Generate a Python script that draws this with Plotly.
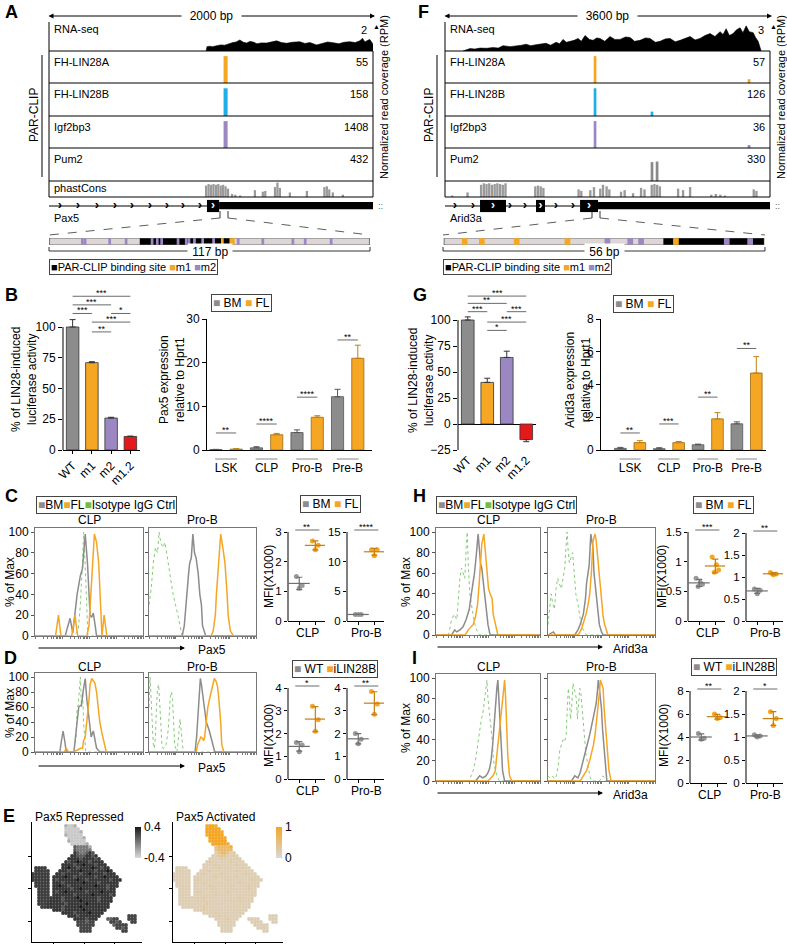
import numpy as np
import plotly.graph_objects as go

W, H = 787, 944
FONT = "Liberation Sans, Arial, Helvetica, sans-serif"
GREY = "#8c8c8c"
ORANGE = "#F5A623"
PURPLE = "#9B87C1"
RED = "#E3191C"
CYAN = "#1FAEE6"
GREEN = "#6DBE45"
ISO_GREEN = "#86CC78"
DARK_OR = "#C47F0E"
DARK_GR = "#6f6f6f"

# ======================= DATA =======================
# ---- Panel A : Pax5 locus ----
pax5_len_bp = 2000
pax5_rna_pos = [970, 975, 990, 1010, 1035, 1060, 1085, 1110, 1135, 1155,
                1178, 1200, 1220, 1240, 1260, 1285, 1310, 1343, 1370, 1405,
                1435, 1467, 1500, 1548, 1580, 1610, 1652, 1690, 1720, 1754,
                1790, 1820, 1857, 1890, 1919, 1935, 1950, 1965, 1980, 1995, 2000]
pax5_rna_val = [0, 0.30, 0.33, 0.30, 0.36, 0.42, 0.40, 0.50, 0.58, 0.62,
                0.76, 0.60, 0.55, 0.66, 0.62, 0.50, 0.56, 0.55, 0.62, 0.70,
                0.58, 0.53, 0.60, 0.64, 0.52, 0.58, 0.42, 0.55, 0.62, 0.57,
                0.50, 0.60, 0.64, 0.58, 0.70, 0.88, 0.62, 0.72, 0.80, 0.55, 0.45]
pax5_rna_max = 2
pax5_lin28a_pos, pax5_lin28a_val = [1090], [55]
pax5_lin28b_pos, pax5_lin28b_val = [1090], [158]
pax5_igf2bp3_pos, pax5_igf2bp3_val = [1090], [1408]
pax5_pum2_pos, pax5_pum2_val = [], []
pax5_track_max = [55, 158, 1408, 432]
pax5_phast_pos = [970, 985, 1000, 1015, 1030, 1045, 1060, 1075, 1090, 1105,
                  1130, 1150, 1180, 1271, 1320, 1335, 1395, 1410, 1425, 1487,
                  1592, 1700, 1715, 1730, 1752, 1814]
pax5_phast_val = [0.75, 0.85, 0.8, 0.85, 0.8, 0.85, 0.75, 0.8, 0.7, 0.55,
                  0.2, 0.15, 0.1, 0.45, 0.35, 0.4, 0.65, 0.95, 0.6, 0.3,
                  0.4, 0.65, 0.7, 0.5, 0.3, 0.15]
pax5_intron = [0, 975]
pax5_exon_tall = [[975, 1050]]
pax5_exon_thick = [[1050, 2000]]
pax5_chevrons = [68, 179, 296, 407, 512, 623, 728, 827, 932]
pax5_chevrons_white = [1012]
pax5_zoom_len = 117
pax5_site = [33, 67]
pax5_m1 = [63.2, 66.3, 67.2]
pax5_m2 = [12, 13, 22, 28, 37.5, 39.4, 41, 47, 50, 51, 53, 56, 60, 69, 78, 89, 93.5, 103]

# ---- Panel F : Arid3a locus ----
arid3a_len_bp = 3600
arid3a_rna_pos = [199, 277, 330, 388, 460, 532, 590, 643, 720, 787,
                  850, 898, 950, 1008, 1060, 1119, 1170, 1230, 1270, 1307,
                  1345, 1385, 1430, 1474, 1510, 1551, 1600, 1640, 1680, 1717,
                  1770, 1828, 1880, 1939, 2000, 2050, 2100, 2160, 2220, 2271,
                  2330, 2382, 2440, 2493, 2550, 2604, 2660, 2715, 2770, 2826,
                  2880, 2936, 2990, 3047, 3080, 3114, 3150, 3191, 3230, 3269,
                  3300, 3336, 3370, 3414, 3440, 3469, 3502]
arid3a_rna_val = [0, 0.25, 0.2, 0.3, 0.28, 0.35, 0.3, 0.55, 0.45, 0.5,
                  0.6, 0.7, 0.55, 0.65, 0.75, 0.8, 0.6, 0.9, 0.75, 1.2,
                  0.9, 1.0, 1.1, 1.3, 1.0, 1.6, 1.2, 1.1, 1.35, 1.3,
                  1.0, 1.5, 1.2, 1.2, 1.45, 1.4, 1.0, 1.1, 1.35, 1.3,
                  0.9, 1.0, 1.25, 1.3, 0.95, 1.1, 1.3, 1.5, 1.15, 1.3,
                  1.6, 1.8, 1.5, 2.0, 1.7, 2.3, 1.6, 1.8, 2.2, 2.4,
                  1.9, 2.6, 2.0, 1.9, 1.4, 1.0, 0]
arid3a_rna_max = 3
arid3a_lin28a_pos, arid3a_lin28a_val = [1662, 3368], [57, 8]
arid3a_lin28b_pos, arid3a_lin28b_val = [1662, 2293], [126, 20]
arid3a_igf2bp3_pos, arid3a_igf2bp3_val = [1662, 3368], [36, 4]
arid3a_pum2_pos, arid3a_pum2_val = [2293, 2349], [225, 232]
arid3a_track_max = [57, 126, 36, 330]
arid3a_phast_pos = [80, 250, 400, 430, 460, 490, 520, 550, 580, 610, 640, 670,
                    1000, 1030, 1060, 1090, 1480, 1510, 1610, 1650, 1720, 1750, 1790, 1820,
                    1950, 1990, 2083, 2172, 2210, 2290, 2320, 2350, 2380, 2582, 2637, 2715,
                    2950, 3000, 3050, 3100, 3420, 3450]
arid3a_phast_val = [0.1, 0.3, 0.8, 0.9, 0.85, 0.9, 0.8, 0.85, 0.9, 0.85, 0.8, 0.9,
                    0.7, 0.75, 0.7, 0.6, 0.5, 0.4, 0.45, 0.65, 0.55, 0.8, 0.7, 0.5,
                    0.35, 0.45, 0.25, 0.6, 0.5, 0.8, 0.85, 0.8, 0.7, 0.55, 0.45, 0.65,
                    0.15, 0.2, 0.15, 0.1, 0.5, 0.4]
arid3a_intron = [0, 1496]
arid3a_exon_tall = [[388, 676], [1008, 1108], [1496, 1695]]
arid3a_exon_thick = [[1695, 3600]]
arid3a_chevrons = [111, 310, 720, 886, 1230, 1418]
arid3a_chevrons_white = [532, 1058, 1595]
arid3a_zoom_len = 56
arid3a_site = [38.4, 56]
arid3a_m1 = [3.6, 6.6, 12.7, 21.6, 40.6]
arid3a_m2 = [28.6, 32.6, 34.5, 49.5, 53.6]

track_names = ["FH-LIN28A", "FH-LIN28B", "Igf2bp3", "Pum2"]
track_colors = [ORANGE, CYAN, PURPLE, "#8a8a8a"]

# ---- Panels B / G : luciferase + qPCR ----
luc_labels = ["WT", "m1", "m2", "m1.2"]
luc_colors = [GREY, ORANGE, PURPLE, RED]
pax5_luc = [100, 71, 26, 11]
pax5_luc_err = [6, 0.8, 0.6, 0.3]
pax5_luc_sig = [(0, 3, 125, "***"), (0, 2, 118, "***"), (0, 1, 111, "***"),
                (2, 3, 111, "*"), (1, 3, 104, "***"), (1, 2, 96, "**")]
arid3a_luc = [100, 40, 64, -15]
arid3a_luc_err = [3, 4, 6, 2]
arid3a_luc_sig = [(0, 3, 123, "***"), (0, 2, 116, "**"), (0, 1, 108, "***"),
                  (2, 3, 108, "***"), (1, 3, 98, "***"), (1, 2, 90, "*")]

groups = ["LSK", "CLP", "Pro-B", "Pre-B"]
pax5_bm = [0.1, 0.5, 4.0, 12.2]
pax5_bm_err = [0.05, 0.25, 0.6, 1.7]
pax5_fl = [0.2, 3.5, 7.5, 21.0]
pax5_fl_err = [0.1, 0.3, 0.35, 3.0]
pax5_expr_sig = [3.9, 5.95, 12.1, 25.2]
pax5_expr_sig_txt = ["**", "****", "****", "**"]
arid3a_bm = [0.1, 0.08, 0.32, 1.6]
arid3a_bm_err = [0.06, 0.06, 0.04, 0.12]
arid3a_fl = [0.45, 0.45, 1.9, 4.7]
arid3a_fl_err = [0.12, 0.07, 0.38, 1.0]
arid3a_expr_sig = [1.04, 1.59, 3.23, 6.2]
arid3a_expr_sig_txt = ["**", "***", "**", "**"]

# ---- Panels C / D / H / I : MFI dot plots (x1000) ----
c_clp_bm, c_clp_fl = [1.5, 1.1, 1.2], [2.7, 2.4, 2.55]
c_prob_bm, c_prob_fl = [1.1, 1.1, 1.1], [12.0, 11.0, 12.0]
d_clp_wt, d_clp_il = [1.6, 1.2, 1.5], [3.2, 2.1, 2.6]
d_prob_wt, d_prob_il = [2.0, 1.55, 1.75], [3.85, 2.85, 3.3]
h_clp_bm, h_clp_fl = [0.72, 0.58, 0.65, 0.62], [1.08, 0.82, 0.95, 0.86]
h_prob_bm, h_prob_fl = [0.73, 0.62, 0.70], [1.1, 1.05, 1.07]
i_clp_wt, i_clp_il = [4.3, 3.8, 3.9], [6.0, 5.6, 5.7]
i_prob_wt, i_prob_il = [1.05, 1.0, 1.02], [1.55, 1.25, 1.4]
jitter3 = [-0.18, 0.0, 0.18]
jitter4 = [-0.2, -0.07, 0.07, 0.2]

# ---- Flow histograms (% of Max vs fluorescence, 0-100 display units) ----
c_clp_hist = {
    "iso": ([0, 36, 40, 42, 44, 45, 46, 47, 48, 49, 100], [0, 0, 5, 30, 70, 100, 80, 50, 20, 0, 0]),
    "bm": ([0, 28, 30, 32.5, 35, 37, 39, 42, 44, 45.5, 46.5, 48.6, 51, 52.5, 54, 56, 57, 100],
           [0, 0, 8, 17, 3, 20, 40, 58, 65, 85, 98, 70, 20, 18, 22, 8, 0, 0]),
    "fl": ([0, 19, 21.7, 24, 34, 37, 39.5, 48, 50, 52, 55, 57, 59, 62, 64, 66.5, 100],
           [0, 0, 20, 0, 0, 20, 0, 0, 10, 50, 98, 90, 70, 0, 20, 0, 0]),
}
c_prob_hist = {
    "iso": ([0, 2, 4, 6, 8, 9.4, 11, 13, 15, 17, 19, 21, 22.5, 25, 27, 29, 31, 100],
            [30, 45, 70, 85, 80, 100, 90, 85, 90, 75, 60, 50, 40, 30, 20, 10, 0, 0]),
    "bm": ([0, 31, 33, 35, 37, 38, 39.5, 41, 42.5, 44, 46, 47.5, 49, 50, 53, 100],
           [0, 0, 10, 40, 60, 70, 75, 98, 80, 75, 60, 40, 30, 10, 0, 0]),
    "fl": ([0, 58, 60, 62, 63, 65, 67, 69, 71, 73, 74, 76, 79, 100],
           [0, 0, 5, 20, 40, 70, 98, 85, 70, 40, 20, 5, 0, 0]),
}
d_clp_hist = {
    "iso": ([0, 36, 38, 39, 40, 41, 42, 43, 44, 45, 46, 47, 100], [0, 0, 20, 60, 62, 90, 100, 60, 80, 40, 10, 0, 0]),
    "bm": ([0, 23, 24.5, 26, 27.5, 29, 36, 37.5, 39, 40.5, 42, 43, 44.5, 46.5, 48, 50, 52, 54, 56, 57, 60, 100],
           [0, 0, 15, 28, 15, 0, 0, 20, 45, 60, 62, 62, 80, 98, 70, 40, 20, 28, 15, 5, 0, 0]),
    "fl": ([0, 27, 29, 31, 36, 40, 42, 44, 45, 46.5, 48, 50, 51, 52.5, 54, 55.5, 57, 58.5, 60, 62, 64, 66, 100],
           [0, 0, 5, 0, 0, 3, 5, 5, 15, 20, 40, 70, 90, 98, 95, 92, 80, 60, 40, 25, 10, 0, 0]),
}
d_prob_hist = {
    "iso": ([0, 1, 2, 3, 4, 5, 6, 7, 8, 9, 10, 11, 12, 13, 14, 16, 18, 19, 20, 21, 22, 23, 24, 25, 26, 27, 28, 29, 30, 31, 32, 33, 100],
            [60, 100, 70, 30, 10, 5, 20, 60, 85, 90, 70, 40, 10, 5, 5, 10, 30, 60, 75, 80, 70, 40, 10, 5, 0, 10, 30, 44, 30, 10, 0, 0, 0]),
    "bm": ([0, 43, 44.5, 46, 47, 48, 49, 50, 51.5, 53.5, 56, 58, 60, 61.5, 100],
           [0, 0, 20, 60, 85, 98, 90, 80, 60, 40, 30, 20, 8, 0, 0]),
    "fl": ([0, 44, 45.5, 47, 48.5, 50, 51, 52, 53, 54, 55, 56.5, 58, 59.5, 61, 62.5, 64, 65, 66, 67, 68, 70, 100],
           [0, 0, 10, 15, 20, 18, 15, 20, 35, 50, 60, 70, 80, 90, 98, 95, 88, 75, 60, 40, 10, 0, 0]),
}
h_clp_hist = {
    "iso": ([0, 12, 15, 17.5, 20, 21.5, 23, 24.5, 26, 27.7, 29, 30, 31, 32.5, 34, 35.7, 37, 39, 42, 100],
            [0, 0, 15, 20, 15, 40, 55, 65, 60, 55, 85, 100, 70, 40, 30, 20, 12, 5, 0, 0]),
    "bm": ([0, 15, 18, 20, 23, 26, 29, 32, 34, 35.5, 37, 38.5, 40.5, 42, 42.7, 44, 45, 47, 48.5, 50, 52, 100],
           [0, 0, 5, 3, 5, 8, 15, 25, 40, 50, 60, 75, 98, 80, 70, 65, 55, 40, 25, 10, 0, 0]),
    "fl": ([0, 28, 31, 34, 35.7, 38, 40, 41.5, 42.7, 44, 46, 47.5, 49, 50.5, 52, 54, 55, 57, 59.5, 100],
           [0, 0, 5, 8, 10, 18, 30, 50, 70, 88, 98, 80, 60, 45, 40, 35, 20, 10, 0, 0]),
}
h_prob_hist = {
    "iso": ([0, 1.5, 3, 4.5, 6, 7.5, 9, 10.5, 12.5, 14, 15.6, 16.8, 17.8, 19, 20, 21.5, 23, 24.5, 26, 28, 29.6, 31, 33, 34.5, 36, 100],
            [10, 25, 40, 30, 25, 45, 55, 50, 45, 55, 65, 85, 100, 80, 70, 75, 80, 60, 40, 30, 20, 10, 5, 2, 0, 0]),
    "bm": ([0, 5, 7, 10, 25, 28, 30, 33, 35, 36, 37.5, 38.5, 40, 41, 42, 43, 45, 46.5, 48, 50, 51.5, 100],
           [0, 3, 0, 0, 0, 5, 10, 20, 35, 50, 65, 68, 98, 90, 85, 60, 40, 25, 10, 3, 0, 0]),
    "fl": ([0, 28, 30, 32, 34, 36, 37.5, 39, 40.5, 42, 43, 44, 45, 46, 47, 48.5, 50, 51.5, 53, 54.5, 56, 100],
           [0, 0, 3, 8, 15, 22, 30, 40, 60, 90, 95, 98, 92, 80, 70, 50, 30, 18, 10, 4, 0, 0]),
}
i_clp_hist = {
    "iso": ([0, 30, 33, 35.7, 38, 40.5, 42, 43.6, 45, 46, 47, 48, 49, 50, 51.6, 53, 54, 55, 56, 58.6, 61, 100],
            [0, 0, 3, 10, 20, 40, 50, 60, 65, 75, 80, 90, 98, 80, 65, 55, 40, 25, 15, 5, 0, 0]),
    "bm": ([0, 38, 42, 45, 48, 50, 51.5, 53, 54.5, 56, 57.5, 58.5, 59.5, 60.5, 62, 63, 64, 66, 100],
           [0, 0, 5, 3, 5, 8, 12, 20, 35, 60, 75, 90, 98, 80, 60, 30, 10, 0, 0]),
    "fl": ([0, 50, 54.8, 57, 58, 59.5, 61, 62, 63, 63.7, 64.5, 65.3, 66, 67, 68, 69, 70.7, 73, 100],
           [0, 0, 5, 10, 20, 35, 50, 60, 65, 70, 80, 90, 98, 80, 50, 25, 5, 0, 0]),
}
i_prob_hist = {
    "iso": ([0, 2, 4, 6, 7.8, 9.5, 11, 12.5, 14, 15.5, 17, 18, 19, 20, 21, 22, 23.4, 24.5, 25.5, 26.5,
             27.5, 28.5, 29.7, 30.8, 31.8, 33, 34, 35.5, 37.5, 39, 40.6, 48, 51.5, 53, 54.7, 100],
            [5, 3, 5, 2, 5, 15, 30, 35, 40, 38, 45, 70, 90, 80, 60, 70, 95, 90, 85, 80,
             60, 75, 90, 85, 70, 55, 40, 25, 15, 5, 0, 0, 5, 3, 0, 0]),
    "bm": ([0, 22, 25, 28, 30, 33, 35, 37.5, 39, 41, 42, 43.5, 45, 46, 47, 48, 49, 50, 51, 52, 53, 55, 100],
           [0, 0, 5, 3, 8, 20, 28, 40, 45, 55, 60, 65, 75, 85, 98, 90, 80, 70, 50, 35, 20, 0, 0]),
    "fl": ([0, 30, 33, 36, 39, 41, 42.5, 44, 45, 46, 47, 48, 49, 50, 51.5, 52.5, 53.5, 54.7, 56, 57, 59, 100],
           [0, 0, 5, 10, 20, 28, 35, 45, 55, 65, 70, 85, 98, 95, 90, 70, 55, 40, 20, 10, 0, 0]),
}

# ---- Panel E : UMAP occupancy map (row -> [(start col, cell codes)]) ----
umap_rows = [
    [(11, "tTTt")], [(11, "TTTTT")], [(11, "TTTTTt")], [(11, "tTTTTT")], [(12, "TTTTTt")],
    [(12, "tTTTTT")], [(13, "TTTTTt")], [(14, "nNNNNt")], [(14, "nNNNNN")], [(14, "BnNNnBb")],
    [(13, "BBbnnBBbB")], [(12, "BBBBbBBBBbB")], [(11, "BbBBDBBBbBBBB")], [(10, "BBBBbBBDBBBbBBB")],
    [(1, "LLLL"), (10, "BBDBBbBBBBDBBbBB")],
    [(1, "LLLLL"), (9, "BBBbBBBDBBBBbBBBDB")],
    [(0, "LLLLLL"), (8, "BBbBBBBBbBBDBBBBbBBB")],
    [(0, "LLLLLL"), (7, "BBBBDBBbBBBBBBbBBDBBBB")],
    [(0, "LLLLLL"), (7, "BbBBBBBBDBBbBBBBBBBbBBB")],
    [(1, "LLLLL"), (7, "BBBbBBBBBBDBBBBbBBBBBB")],
    [(1, "LLLLL"), (7, "BBDBBbBBBBBBBBDBBBbBBB")],
    [(2, "LLLL"), (7, "BBBBBBbBBDBBBBBBBBbBB")],
    [(2, "LLLL"), (7, "BbBBDBBBBBBbBBBBDBBBB")],
    [(2, "LLLL"), (7, "BBBBBBBbBBBBBDBBBBBbB")],
    [(2, "LLLLL"), (7, "BBBbBBBBDBBBBBBbBBBB")],
    [(2, "LLLLBBBBbBBBBBDBBBBBbBBBB")],
    [(2, "LLLBBBBBBbBBBBBBDBBBBBBB")],
    [(3, "LLBBBBBbBBBBBDBBBBBBBBB")],
    [(7, "BBBbBBBBBBDBBBBBBB")],
    [(10, "BBBBbBBBBDBBBB")],
    [(12, "BBBbBBBBBBB"), (32, "SSS")],
    [(14, "BBBBbBBB"), (25, "ssSS"), (32, "SSS")],
    [(15, "SSSsSS"), (26, "SSsS"), (33, "SS")],
    [(15, "SSSSSS"), (27, "sSSSS")],
    [(16, "SSSS"), (28, "SSsS")],
    [(16, "SSSS"), (30, "SS")],
]
umap_repressed_score = {"T": -0.33, "t": -0.22, "N": 0.0, "n": 0.12, "B": 0.28, "b": 0.15,
                        "D": 0.4, "L": 0.25, "S": 0.22, "s": 0.1}
umap_activated_score = {"T": 1.0, "t": 0.85, "N": 0.6, "n": 0.42, "B": 0.2, "b": 0.28,
                        "D": 0.14, "L": 0.2, "S": 0.18, "s": 0.24}

# ======================= HELPERS =======================
fig = go.Figure()
annotations, shapes = [], []
_axn = [0]


def X(px):
    return px / W


def Y(py):
    return 1.0 - py / H


BASE_AX = dict(showgrid=False, zeroline=False, showticklabels=False, ticks="", showline=False,
               linecolor="black", linewidth=1, tickcolor="black", tickwidth=1,
               tickfont=dict(size=12, family=FONT, color="black"), fixedrange=True)


def new_axes(x0, x1, y0, y1, xr, yr, xkw=None, ykw=None):
    _axn[0] += 1
    s = "" if _axn[0] == 1 else str(_axn[0])
    xa = dict(BASE_AX, domain=[X(x0), X(x1)], anchor="y" + s, range=list(xr))
    ya = dict(BASE_AX, domain=[Y(y1), Y(y0)], anchor="x" + s, range=list(yr))
    if xkw:
        xa.update(xkw)
    if ykw:
        ya.update(ykw)
    fig.update_layout({"xaxis" + s: xa, "yaxis" + s: ya})
    return "x" + s, "y" + s


def txt(x, y, s, size=12, xa="center", ya="middle", color="black", angle=0, bold=False, **kw):
    annotations.append(dict(x=X(x), y=Y(y), xref="paper", yref="paper",
                            text=("<b>%s</b>" % s) if bold else s, showarrow=False,
                            xanchor=xa, yanchor=ya, textangle=angle,
                            font=dict(size=size, color=color, family=FONT), **kw))


def pline(x0, y0, x1, y1, color="black", width=1, dash="solid"):
    shapes.append(dict(type="line", xref="paper", yref="paper", x0=X(x0), y0=Y(y0), x1=X(x1), y1=Y(y1),
                       line=dict(color=color, width=width, dash=dash)))


def harrow(x0, x1, y, both=False):
    annotations.append(dict(x=X(x1), y=Y(y), xref="paper", yref="paper", ax=x0 - x1, ay=0,
                            axref="pixel", ayref="pixel", text="", showarrow=True, arrowhead=2,
                            startarrowhead=2, arrowsize=1, startarrowsize=1, arrowwidth=1,
                            arrowcolor="black", arrowside="end+start" if both else "end"))


def legend_box(x, y, items, size=12, anchor="center"):
    s = "".join("<span style='color:%s'>■</span>%s" % (c, l) for c, l in items)
    annotations.append(dict(x=X(x), y=Y(y), xref="paper", yref="paper", text=s, showarrow=False,
                            xanchor=anchor, yanchor="middle", font=dict(size=size, family=FONT, color="black"),
                            bordercolor="#444", borderwidth=1, borderpad=1, bgcolor="white"))


def rect(xa, ya, x0, x1, y0, y1, fill, line_color=None, lw=0, layer="above"):
    shapes.append(dict(type="rect", xref=xa, yref=ya, x0=x0, x1=x1, y0=y0, y1=y1, fillcolor=fill,
                       line=dict(color=line_color or fill, width=lw), layer=layer))


TRK = [22, 51, 83, 116, 148, 181, 197]


def draw_locus(L):
    x0, x1, n = L["x0"], L["x1"], L["len"]
    xa, ya = new_axes(x0, x1, TRK[0], TRK[1], [0, n], [0, L["rna_max"]])
    fig.add_trace(go.Scatter(x=L["rna_pos"], y=L["rna_val"], mode="lines", fill="tozeroy",
                             line=dict(color="black", width=0.6), fillcolor="black", xaxis=xa, yaxis=ya))
    txt(x0 + 3, TRK[0] + 7, "RNA-seq", 11, xa="left")
    txt(x1 - 4, TRK[0] + 8, str(L["rna_max"]), 11, xa="right")
    txt(x1 + 3, TRK[0] + 5, "▲", 7)
    for i, (name, mx, pos, val, col) in enumerate(L["clips"]):
        top, bot = TRK[i + 1], TRK[i + 2]
        xa, ya = new_axes(x0, x1, top, bot, [0, n], [0, mx / 0.84])
        if pos:
            fig.add_trace(go.Bar(x=pos, y=val, width=L["bar_w"], marker=dict(color=col, line=dict(width=0)),
                                 xaxis=xa, yaxis=ya))
        txt(x0 + 3, top + 11, name, 11, xa="left")
        txt(x1 - 3, top + 11, str(mx), 11, xa="right")
    xa, ya = new_axes(x0, x1, TRK[5], TRK[6], [0, n], [0, 1.05])
    fig.add_trace(go.Bar(x=L["phast_pos"], y=L["phast_val"], width=L["phast_w"],
                         marker=dict(color="#9a9a9a", line=dict(width=0)), xaxis=xa, yaxis=ya))
    if L["phast_label"]:
        txt(x0 + 3, TRK[5] + 7, "phastCons", 11, xa="left")
    pline(x0, TRK[0], x0, TRK[6])
    for yy in TRK[1:]:
        pline(x0, yy, x1, yy)
    pline(x1, TRK[1], x1, TRK[6])
    # scale bar
    harrow(x0 - 2, x1 + 2, 16, both=True)
    txt((x0 + x1) / 2, 16, "  %d bp  " % n, 12, bgcolor="white")
    # right label / PAR-CLIP
    txt(x1 + 11, 97, "Normalized read coverage (RPM)", 11, angle=-90)
    txt(L["pc_x"], 115, "PAR-CLIP", 12, angle=-90)
    pline(L["pc_x"] + 8, 55, L["pc_x"] + 8, 177, width=1)
    # gene model
    gx, gy = new_axes(x0, x1, 198, 214, [0, n], [0, 1])
    shapes.append(dict(type="line", xref=gx, yref=gy, x0=L["intron"][0], x1=L["intron"][1], y0=0.5, y1=0.5,
                       line=dict(color="black", width=1), layer="below"))
    for a, b in L["tall"]:
        rect(gx, gy, a, b, 0.12, 0.88, "black", layer="below")
    for a, b in L["thick"]:
        rect(gx, gy, a, b, 0.3, 0.75, "black", layer="below")
    fig.add_trace(go.Scatter(x=L["chev"], y=[0.5] * len(L["chev"]), mode="text",
                             text=["<b>›</b>"] * len(L["chev"]), textposition="middle center",
                             textfont=dict(size=13, color="black", family=FONT), xaxis=gx, yaxis=gy))
    fig.add_trace(go.Scatter(x=L["chev_w"], y=[0.5] * len(L["chev_w"]), mode="text",
                             text=["<b>›</b>"] * len(L["chev_w"]), textposition="middle center",
                             textfont=dict(size=12, color="white", family=FONT), xaxis=gx, yaxis=gy))
    txt(x0 + 3, 218, L["gene"], 11, xa="left")
    txt(x1 + 7, 206, "::", 9, color="#555")
    # zoom guide
    t0, t1 = L["brk"]
    pline(t0, 211, t0, 218, width=0.8)
    pline(t1, 211, t1, 218, width=0.8)
    pline(t0, 218, L["zx0"], 235, color="#333", width=0.8, dash="dash")
    pline(t1, 218, L["zx1"], 235, color="#333", width=0.8, dash="dash")
    zxa, zya = new_axes(L["zx0"], L["zx1"], 238, 245, [-0.2, L["zlen"] + 0.2], [0, 1])
    rect(zxa, zya, 0, L["zlen"], 0, 1, "#dcd6d6", "#555", 0.8)
    rect(zxa, zya, L["site"][0], L["site"][1], 0.02, 0.98, "black")
    for c in L["m1"]:
        rect(zxa, zya, c - 0.5, c + 0.5, 0.02, 0.98, ORANGE)
    for c in L["m2"]:
        rect(zxa, zya, c - 0.5, c + 0.5, 0.02, 0.98, PURPLE)
    pline(L["zx0"], 247, L["zx0"], 251, width=0.8)
    pline(L["zx0"], 251, L["zx1"], 251, width=0.8)
    pline(L["zx1"], 247, L["zx1"], 251, width=0.8)
    txt((L["zx0"] + L["zx1"]) / 2, 252, " %d bp " % L["zlen"], 12, bgcolor="white")
    legend_box(L["zx0"], 267, [("black", "PAR-CLIP binding site "), (ORANGE, "m1 "), (PURPLE, "m2")],
               size=11, anchor="left")


def luc_panel(x0, x1, zero_px, ppu, yr, vals, errs, sig, yticks, xline):
    top = zero_px - yr[1] * ppu
    bot = zero_px - yr[0] * ppu
    xa, ya = new_axes(x0, x1, top, bot, [-0.5, 3.5], yr,
                      xkw=dict(tickvals=[0, 1, 2, 3], ticktext=luc_labels, showticklabels=True, tickangle=-45,
                               showline=xline, ticks="outside" if xline else "", ticklen=3),
                      ykw=dict(tickvals=yticks, showticklabels=True, ticks="outside", ticklen=4,
                               zeroline=not xline, zerolinecolor="black", zerolinewidth=1))
    shapes.append(dict(type="line", xref=xa + " domain", yref=ya, x0=0, x1=0, y0=yticks[0], y1=yticks[-1],
                       line=dict(color="black", width=1)))
    plus = [e if v >= 0 else 0 for v, e in zip(vals, errs)]
    minus = [0 if v >= 0 else e for v, e in zip(vals, errs)]
    fig.add_trace(go.Bar(x=[0, 1, 2, 3], y=vals, width=0.65,
                         marker=dict(color=luc_colors, line=dict(color="#333", width=0.8)),
                         error_y=dict(type="data", symmetric=False, array=plus, arrayminus=minus,
                                      color="#333", thickness=1, width=3), xaxis=xa, yaxis=ya))
    for i, j, lvl, s in sig:
        shapes.append(dict(type="line", xref=xa, yref=ya, x0=i, x1=j, y0=lvl, y1=lvl,
                           line=dict(color="#444", width=0.8)))
        annotations.append(dict(x=(i + j) / 2, y=lvl, xref=xa, yref=ya, text=s, showarrow=False,
                                yanchor="bottom", yshift=-4, font=dict(size=9, family=FONT, color="black")))


def expr_panel(x0, x1, zero_px, top_px, ymax, xr, bm, bme, fl, fle, sig, sigt, yticks):
    xa, ya = new_axes(x0, x1, top_px, zero_px, xr, [0, ymax],
                      xkw=dict(showline=True, tickvals=[0, 1, 2, 3], ticktext=groups, showticklabels=True,
                               ticklabelstandoff=7),
                      ykw=dict(showline=True, ticks="outside", ticklen=4, tickvals=yticks, showticklabels=True))
    g = [0, 1, 2, 3]
    fig.add_trace(go.Bar(x=[k - 0.25 for k in g], y=bm, width=0.3,
                         marker=dict(color=GREY, line=dict(color="#555", width=0.8)),
                         error_y=dict(type="data", symmetric=False, array=bme, arrayminus=[0] * 4,
                                      color="#555", thickness=1, width=3), xaxis=xa, yaxis=ya))
    fig.add_trace(go.Bar(x=[k + 0.25 for k in g], y=fl, width=0.3,
                         marker=dict(color=ORANGE, line=dict(color="#9a6a10", width=0.8)),
                         error_y=dict(type="data", symmetric=False, array=fle, arrayminus=[0] * 4,
                                      color=DARK_OR, thickness=1, width=3), xaxis=xa, yaxis=ya))
    for k in g:
        shapes.append(dict(type="line", xref=xa, yref="paper", x0=k - 0.27, x1=k + 0.27,
                           y0=Y(zero_px + 9), y1=Y(zero_px + 9), line=dict(color="#888", width=1)))
        shapes.append(dict(type="line", xref=xa, yref=ya, x0=k - 0.25, x1=k + 0.25, y0=sig[k], y1=sig[k],
                           line=dict(color="#444", width=0.8)))
        annotations.append(dict(x=k, y=sig[k], xref=xa, yref=ya, text=sigt[k], showarrow=False,
                                yanchor="bottom", yshift=-4, font=dict(size=9, family=FONT, color="black")))


def mfi_panel(ax_px, zero_px, top_px, top_val, yticks, ytext, a, b, sig_txt, label):
    ppu = (zero_px - top_px) / top_val
    ymax = top_val + 10.0 / ppu
    xa, ya = new_axes(ax_px, ax_px + 37, zero_px - ymax * ppu, zero_px, [-0.7, 1.6], [0, ymax],
                      xkw=dict(showline=True, ticks="outside", ticklen=3, tickvals=[0, 1]),
                      ykw=dict(ticks="outside", ticklen=3, tickvals=yticks, ticktext=ytext, showticklabels=True,
                               tickfont=dict(size=11.5, family=FONT, color="black")))
    shapes.append(dict(type="line", xref=xa + " domain", yref=ya, x0=0, x1=0, y0=0, y1=top_val,
                       line=dict(color="black", width=1)))
    for k, (vals, col, dark) in enumerate([(a, "#9a9a9a", DARK_GR), (b, ORANGE, DARK_OR)]):
        jit = jitter3 if len(vals) == 3 else jitter4
        fig.add_trace(go.Scatter(x=[k + j for j in jit], y=vals, mode="markers",
                                 marker=dict(size=5, color=col, line=dict(width=0)), xaxis=xa, yaxis=ya))
        m = float(np.mean(vals))
        sd = float(np.std(vals, ddof=1))
        fig.add_trace(go.Scatter(x=[k], y=[m], mode="markers",
                                 marker=dict(symbol="line-ew", size=15, line=dict(width=1.2, color=dark)),
                                 error_y=dict(type="data", array=[sd], color=dark, thickness=1.2, width=3),
                                 xaxis=xa, yaxis=ya))
    lvl = top_val + 2.0 / ppu
    shapes.append(dict(type="line", xref=xa, yref=ya, x0=-0.25, x1=1.25, y0=lvl, y1=lvl,
                       line=dict(color="#444", width=0.8)))
    annotations.append(dict(x=0.5, y=lvl, xref=xa, yref=ya, text=sig_txt, showarrow=False,
                            yanchor="bottom", yshift=-4, font=dict(size=9, family=FONT, color="black")))
    annotations.append(dict(x=0.5, y=Y(zero_px + 12), xref=xa, yref="paper", text=label, showarrow=False,
                            yanchor="middle", font=dict(size=12, family=FONT, color="black")))


HIST_XTICKS = [d * 25 + 25 * np.log10(k) for d in range(4) for k in range(1, 10)] + [100]


def hist_panel(x0, x1, box_top, y100, zero_px, series, ylab, title, title_y):
    ppu = (zero_px - y100) / 100.0
    ymax = (zero_px - box_top) / ppu
    xa, ya = new_axes(x0, x1, box_top, zero_px, [0, 100], [0, ymax],
                      xkw=dict(showline=True, mirror=True, linecolor="#777", ticks="outside", ticklen=2,
                               tickcolor="#777", tickvals=HIST_XTICKS),
                      ykw=dict(showline=True, mirror=True, linecolor="#777", ticks="outside", ticklen=3,
                               tickcolor="#555", tickvals=[0, 20, 40, 60, 80, 100], showticklabels=ylab))
    sx, sy = series["iso"]
    fig.add_trace(go.Scatter(x=sx, y=sy, mode="lines", line=dict(color=ISO_GREEN, width=1, dash="dot"),
                             xaxis=xa, yaxis=ya))
    sx, sy = series["bm"]
    fig.add_trace(go.Scatter(x=sx, y=sy, mode="lines", line=dict(color=GREY, width=1.5), xaxis=xa, yaxis=ya))
    sx, sy = series["fl"]
    fig.add_trace(go.Scatter(x=sx, y=sy, mode="lines", line=dict(color=ORANGE, width=1.5), xaxis=xa, yaxis=ya))
    txt((x0 + x1) / 2, title_y, title, 12)


umap_x, umap_y, umap_code = [], [], []
for r, segs in enumerate(umap_rows):
    for start, cells in segs:
        for k, ch in enumerate(cells):
            umap_x.append(start + k)
            umap_y.append(r)
            umap_code.append(ch)


def umap_panel(x0, scores, cs, cmin, cmax, cb_vals, cb_text, title):
    xa, ya = new_axes(x0, x0 + 110, 822, 942, [-0.33, 36.33], [38.67, -1.33],
                      xkw=dict(showline=True, ticks="outside", ticklen=3, tickvals=[7, 17, 27]),
                      ykw=dict(showline=True, ticks="outside", ticklen=3, tickvals=[10.3, 20.7, 32]))
    fig.add_trace(go.Scatter(x=umap_x, y=umap_y, mode="markers",
                             marker=dict(size=3.8, color=[scores[c] for c in umap_code], colorscale=cs,
                                         cmin=cmin, cmax=cmax, line=dict(width=0), showscale=True,
                                         colorbar=dict(x=X(x0 + 103), xanchor="left", y=Y(827), yanchor="top",
                                                       len=31.0 / H, lenmode="fraction", thickness=6,
                                                       thicknessmode="pixels", outlinewidth=0, xpad=0, ypad=0,
                                                       tickvals=cb_vals, ticktext=cb_text, ticks="",
                                                       tickfont=dict(size=12, family=FONT, color="black"))),
                             xaxis=xa, yaxis=ya))
    txt(x0 + 1, 817, title, 12, xa="left")


# ======================= BUILD =======================
draw_locus(dict(x0=49, x1=373, len=pax5_len_bp, rna_pos=pax5_rna_pos, rna_val=pax5_rna_val,
                rna_max=pax5_rna_max,
                clips=[(track_names[0], pax5_track_max[0], pax5_lin28a_pos, pax5_lin28a_val, track_colors[0]),
                       (track_names[1], pax5_track_max[1], pax5_lin28b_pos, pax5_lin28b_val, track_colors[1]),
                       (track_names[2], pax5_track_max[2], pax5_igf2bp3_pos, pax5_igf2bp3_val, track_colors[2]),
                       (track_names[3], pax5_track_max[3], pax5_pum2_pos, pax5_pum2_val, track_colors[3])],
                bar_w=25, phast_pos=pax5_phast_pos, phast_val=pax5_phast_val, phast_w=14, phast_label=True,
                pc_x=34, intron=pax5_intron, tall=pax5_exon_tall, thick=pax5_exon_thick,
                chev=pax5_chevrons, chev_w=pax5_chevrons_white, gene="Pax5", brk=(220, 228),
                zx0=49, zx1=370, zlen=pax5_zoom_len, site=pax5_site, m1=pax5_m1, m2=pax5_m2))
draw_locus(dict(x0=445, x1=770, len=arid3a_len_bp, rna_pos=arid3a_rna_pos, rna_val=arid3a_rna_val,
                rna_max=arid3a_rna_max,
                clips=[(track_names[0], arid3a_track_max[0], arid3a_lin28a_pos, arid3a_lin28a_val, track_colors[0]),
                       (track_names[1], arid3a_track_max[1], arid3a_lin28b_pos, arid3a_lin28b_val, track_colors[1]),
                       (track_names[2], arid3a_track_max[2], arid3a_igf2bp3_pos, arid3a_igf2bp3_val, track_colors[2]),
                       (track_names[3], arid3a_track_max[3], arid3a_pum2_pos, arid3a_pum2_val, track_colors[3])],
                bar_w=30, phast_pos=arid3a_phast_pos, phast_val=arid3a_phast_val, phast_w=26, phast_label=False,
                pc_x=429, intron=arid3a_intron, tall=arid3a_exon_tall, thick=arid3a_exon_thick,
                chev=arid3a_chevrons, chev_w=arid3a_chevrons_white, gene="Arid3a", brk=(592, 600),
                zx0=443, zx1=765, zlen=arid3a_zoom_len, site=arid3a_site, m1=arid3a_m1, m2=arid3a_m2))

# B / G
luc_panel(63, 140, 450, 1.23, [0, 130], pax5_luc, pax5_luc_err, pax5_luc_sig, [0, 25, 50, 75, 100], True)
txt(24, 380, "% of LIN28-induced<br>luciferase activity", 12, angle=-90)
expr_panel(207, 372, 450, 319, 30, [-0.47, 3.6], pax5_bm, pax5_bm_err, pax5_fl, pax5_fl_err,
           pax5_expr_sig, pax5_expr_sig_txt, [0, 10, 20, 30])
txt(172, 380, "Pax5 expression<br>relative to Hprt1", 12, angle=-90)
legend_box(241, 303, [(GREY, " BM "), (ORANGE, " FL")])

luc_panel(458, 536, 424, 1.04, [-25, 128], arid3a_luc, arid3a_luc_err, arid3a_luc_sig,
          [-25, 0, 25, 50, 75, 100], False)
txt(421, 380, "% of LIN28-induced<br>luciferase activity", 12, angle=-90)
expr_panel(601, 766, 450, 319, 8, [-0.75, 3.5], arid3a_bm, arid3a_bm_err, arid3a_fl, arid3a_fl_err,
           arid3a_expr_sig, arid3a_expr_sig_txt, [0, 2, 4, 6, 8])
txt(578, 380, "Arid3a expression<br>relative to Hprt1", 12, angle=-90)
legend_box(643, 304, [(GREY, " BM "), (ORANGE, " FL")])

# C
hist_panel(35, 143, 528, 532, 636, c_clp_hist, True, "CLP", 520)
hist_panel(149, 256, 528, 532, 636, c_prob_hist, False, "Pro-B", 520)
legend_box(36, 505, [(GREY, "BM"), (ORANGE, "FL"), (GREEN, "Isotype IgG Ctrl")], anchor="left")
txt(10, 582, "% of Max", 12, angle=-90)
harrow(37, 185, 648)
txt(196, 650, "Pax5", 12, xa="left")
mfi_panel(288, 621, 532, 3, [0, 1, 2, 3], ["0", "1", "2", "3"], c_clp_bm, c_clp_fl, "**", "CLP")
mfi_panel(347, 621, 532, 15, [0, 5, 10, 15], ["0", "5", "10", "15"], c_prob_bm, c_prob_fl, "****", "Pro-B")
legend_box(330, 504, [(GREY, " BM "), (ORANGE, " FL")])
txt(269, 577, "MFI(X1000)", 12, angle=-90)

# D
hist_panel(35, 143, 673, 677, 752, d_clp_hist, True, "CLP", 667)
hist_panel(149, 256, 673, 677, 752, d_prob_hist, False, "Pro-B", 667)
txt(10, 713, "% of Max", 12, angle=-90)
harrow(37, 185, 766)
txt(196, 768, "Pax5", 12, xa="left")
mfi_panel(288, 779, 688, 4, [0, 1, 2, 3, 4], ["0", "1", "2", "3", "4"], d_clp_wt, d_clp_il, "*", "CLP")
mfi_panel(347, 779, 688, 4, [0, 1, 2, 3, 4], ["0", "1", "2", "3", "4"], d_prob_wt, d_prob_il, "**", "Pro-B")
legend_box(335, 669, [(GREY, " WT "), (ORANGE, "iLIN28B")])
txt(269, 736, "MFI(X1000)", 12, angle=-90)

# H
hist_panel(436, 540, 528, 532, 635, h_clp_hist, True, "CLP", 520)
hist_panel(548, 655, 528, 532, 635, h_prob_hist, False, "Pro-B", 520)
legend_box(436, 505, [(GREY, "BM"), (ORANGE, "FL"), (GREEN, "Isotype IgG Ctrl")], anchor="left")
txt(406, 582, "% of Max", 12, angle=-90)
harrow(436, 603, 647)
txt(611, 649, "Arid3a", 12, xa="left")
mfi_panel(688, 621, 532, 1.5, [0, 0.5, 1, 1.5], ["0", "0.5", "1", "1.5"], h_clp_bm, h_clp_fl, "***", "CLP")
mfi_panel(746, 621, 533, 2, [0, 0.5, 1, 1.5, 2], ["0", "0.5", "1", "1.5", "2"], h_prob_bm, h_prob_fl, "**", "Pro-B")
legend_box(723, 505, [(GREY, " BM "), (ORANGE, " FL")])
txt(662, 577, "MFI(X1000)", 12, angle=-90)

# I
hist_panel(436, 540, 674, 678, 781, i_clp_hist, True, "CLP", 667)
hist_panel(548, 655, 674, 678, 781, i_prob_hist, False, "Pro-B", 667)
txt(406, 728, "% of Max", 12, angle=-90)
harrow(436, 603, 793)
txt(611, 795, "Arid3a", 12, xa="left")
mfi_panel(690, 783, 691, 8, [0, 2, 4, 6, 8], ["0", "2", "4", "6", "8"], i_clp_wt, i_clp_il, "**", "CLP")
mfi_panel(746, 783, 691, 2, [0, 0.5, 1, 1.5, 2], ["0", "0.5", "1", "1.5", "2"], i_prob_wt, i_prob_il, "*", "Pro-B")
legend_box(734, 667, [(GREY, " WT "), (ORANGE, "iLIN28B")])
txt(664, 736, "MFI(X1000)", 12, angle=-90)

# E
umap_panel(32, umap_repressed_score, [[0, "#dadada"], [1, "#1a1a1a"]], -0.4, 0.4, [-0.4, 0.4], ["-0.4", "0.4"],
           "Pax5 Repressed")
umap_panel(173, umap_activated_score, [[0, "#d8d8d8"], [1, ORANGE]], 0, 1, [0, 1], ["0", "1"],
           "Pax5 Activated")

# panel letters
for letter, lx, ly in [("A", 3, 12), ("F", 416, 12), ("B", 3, 295), ("G", 411, 295), ("C", 3, 496),
                       ("H", 411, 496), ("D", 2, 658), ("I", 410, 658), ("E", 1, 816)]:
    txt(lx, ly, letter, 18, xa="left", bold=True)

fig.update_layout(width=W, height=H, margin=dict(l=0, r=0, t=0, b=0, pad=0, autoexpand=False),
                  paper_bgcolor="white", plot_bgcolor="rgba(0,0,0,0)", showlegend=False, barmode="overlay",
                  font=dict(family=FONT, size=12, color="black"), annotations=annotations, shapes=shapes,
                  hovermode=False)
fig.write_html("out.html", include_plotlyjs=True, config={"displayModeBar": False, "staticPlot": True},
               post_script="document.body.style.margin='0px';document.body.style.overflow='hidden';")
